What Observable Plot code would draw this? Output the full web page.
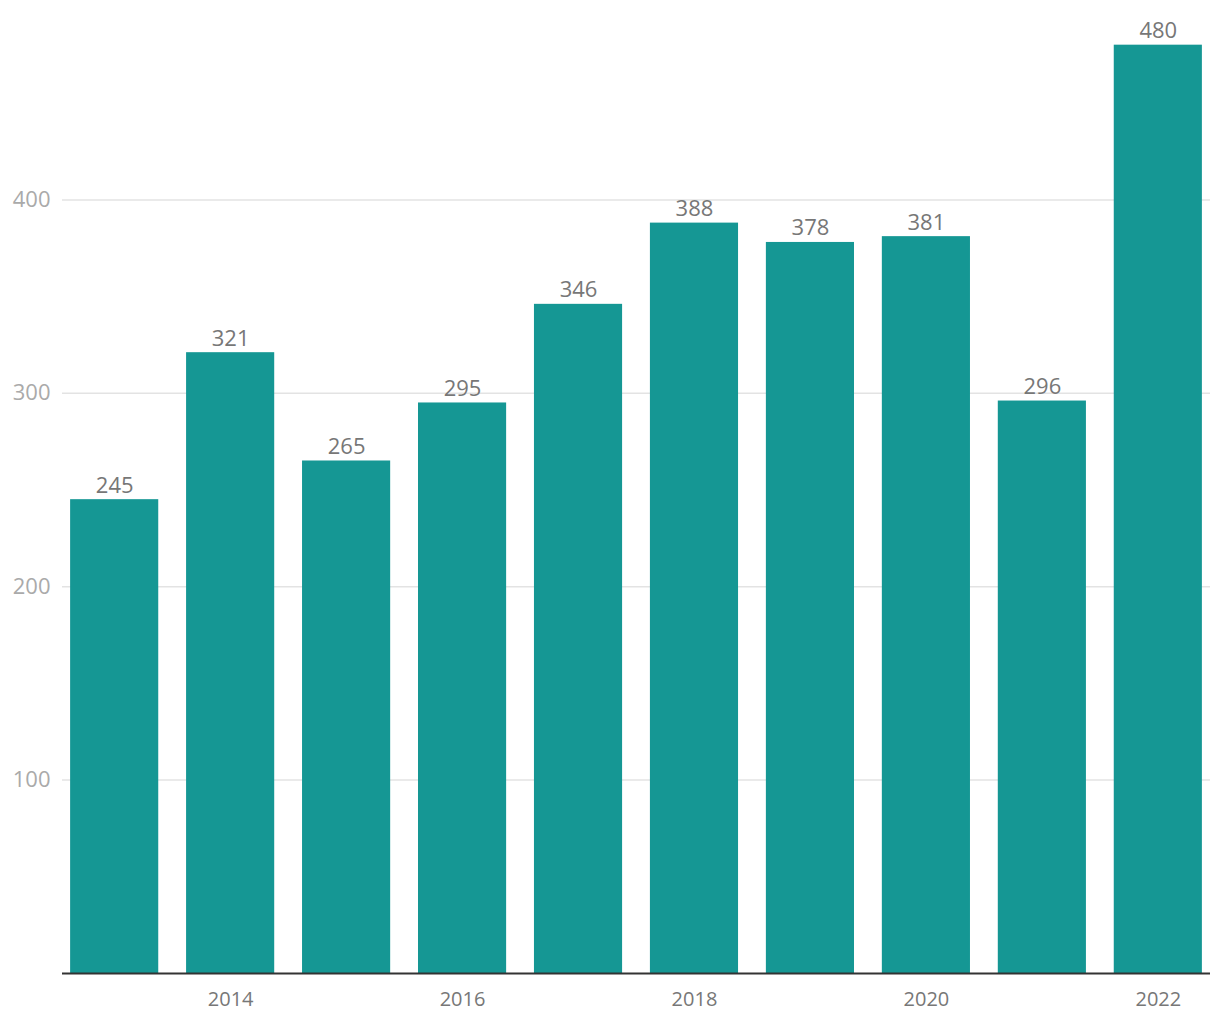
<!DOCTYPE html>
<html>
<head>
<meta charset="utf-8">
<script src="https://cdn.jsdelivr.net/npm/d3@7"></script>
<script src="https://cdn.jsdelivr.net/npm/@observablehq/plot@0.6"></script>
<style>
  html, body { margin: 0; padding: 0; background: #fff; }
  #chart svg { display: block; }
</style>
</head>
<body>
<div id="chart"></div>
<script>
const years = ["2013","2014","2015","2016","2017","2018","2019","2020","2021","2022"];
const values = [245, 321, 265, 295, 346, 388, 378, 381, 296, 480];
const xTicks = ["2014","2016","2018","2020","2022"];
const yTicks = [100, 200, 300, 400];

const data = years.map((y, i) => ({year: y, value: values[i]}));

const chart = Plot.plot({
  width: 1220,
  height: 1020,
  marginLeft: 62,
  marginRight: 10,
  marginTop: 6,
  marginBottom: 47,
  style: {fontFamily: "'Open Sans', sans-serif", fontSize: "20px", background: "#fff"},
  x: {domain: years, paddingInner: 0.24, paddingOuter: 0.07, round: false, label: null},
  y: {domain: [0, 500], label: null},
  marks: [
    Plot.gridY(yTicks, {stroke: "#e3e3e3", strokeOpacity: 1, strokeWidth: 1.5}),
    Plot.axisY(yTicks, {tickSize: 0, tickPadding: 12, fill: "#aaa", fontSize: 22, label: null}),
    Plot.axisX(xTicks, {tickSize: 0, tickPadding: 18, fill: "#777", fontSize: 20, label: null}),
    Plot.barY(data, {x: "year", y: "value", fill: "#159794"}),
    Plot.ruleY([0], {stroke: "#333", strokeWidth: 2}),
    Plot.text(data, {x: "year", y: "value", text: d => String(d.value), lineAnchor: "bottom", dy: -7, fill: "#777", fontSize: 22})
  ]
});
document.getElementById("chart").appendChild(chart);
</script>
</body>
</html>
